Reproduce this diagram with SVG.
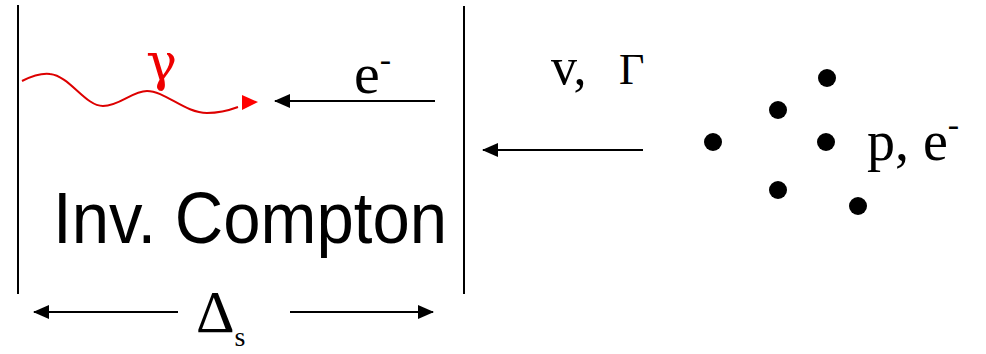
<svg xmlns="http://www.w3.org/2000/svg" width="986" height="354" viewBox="0 0 986 354">
<style>
.ln{stroke:#000;stroke-width:2;fill:none}
.serif{font-family:"Liberation Serif","Times New Roman",serif;fill:#000}
.dot{fill:#000}
</style>
<defs>
<marker id="ah" markerWidth="16" markerHeight="14" refX="15" refY="7" orient="auto" markerUnits="userSpaceOnUse"><path d="M0,0 L16,7 L0,14 Z" fill="#000"/></marker>
</defs>
<rect width="986" height="354" fill="#fff"/>
<g id="region">
<line class="ln" x1="18" y1="5" x2="18" y2="294"/>
<line class="ln" x1="464" y1="6" x2="464" y2="294"/>
</g>
<g id="photon">
<path d="M22,81 C32,76 42,73 50,74 C70,76 85,106 103,106 C120,106 132,91 147,91 C165,91 185,113 207,113 C220,113 230,110 238,107" stroke="#d00" stroke-width="2" fill="none"/>
<path d="M242,95 L258,102 L242,110 Z" fill="#f00"/>
<text x="146" y="80" font-family="'DejaVu Serif',serif" font-size="52" fill="#e00">γ</text>
</g>
<g id="label-inv">
<text x="53" y="243" font-family="'Comic Sans MS','Liberation Sans',sans-serif" font-size="72" textLength="394" lengthAdjust="spacingAndGlyphs">Inv. Compton</text>
</g>
<g id="label-electron">
<text class="serif" x="354" y="93" font-size="58">e<tspan dy="-22" font-size="34">-</tspan></text>
</g>
<g id="label-vgamma">
<text class="serif" y="84" font-size="52"><tspan x="551">v,</tspan><tspan x="619" font-size="44">Γ</tspan></text>
</g>
<g id="cloud">
<circle class="dot" cx="827" cy="78" r="9"/>
<circle class="dot" cx="778" cy="110" r="9"/>
<circle class="dot" cx="713" cy="142" r="9"/>
<circle class="dot" cx="826" cy="142" r="9"/>
<circle class="dot" cx="778" cy="190" r="9"/>
<circle class="dot" cx="858" cy="206" r="9"/>
<text class="serif" x="867" y="160" font-size="56">p, e<tspan dy="-24" font-size="34">-</tspan></text>
</g>
<g id="label-delta">
<text class="serif" x="196" y="332" font-size="60">Δ<tspan font-size="28" dy="14">s</tspan></text>
</g>
<g id="connectors">
<line class="ln" x1="435" y1="101" x2="275" y2="101" marker-end="url(#ah)"/>
<line class="ln" x1="643" y1="150" x2="483" y2="150" marker-end="url(#ah)"/>
<line class="ln" x1="178" y1="312" x2="34" y2="312" marker-end="url(#ah)"/>
<line class="ln" x1="290" y1="312" x2="433" y2="312" marker-end="url(#ah)"/>
</g>
</svg>
